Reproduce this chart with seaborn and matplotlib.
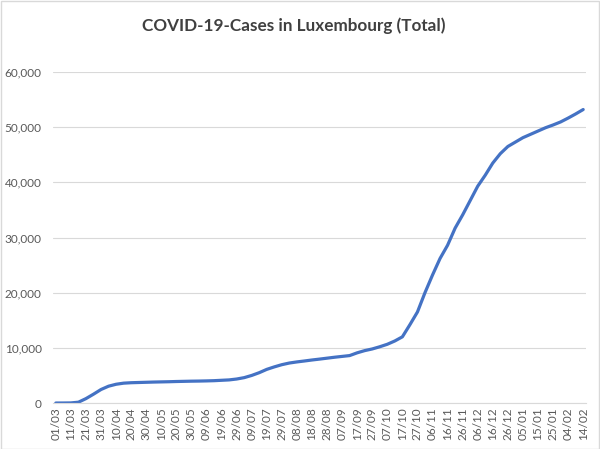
import pandas as pd
import matplotlib.pyplot as plt
import matplotlib.dates as mdates
import matplotlib.ticker as mticker
import seaborn as sns

# Cumulative cases, every 5 days starting 01/03/2020
start_date = "2020-03-01"
step_days = 5
total_cases = [
    0, 5, 20, 150, 800, 1600, 2450, 3050, 3400, 3600,
    3680, 3720, 3760, 3800, 3830, 3860, 3900, 3930, 3960, 3980,
    4010, 4050, 4120, 4190, 4350, 4600, 5000, 5500, 6100, 6550,
    6950, 7250, 7450, 7620, 7800, 7960, 8130, 8300, 8450, 8600,
    9100, 9500, 9800, 10200, 10650, 11250, 12000, 14200, 16500, 20000,
    23200, 26200, 28600, 31700, 34100, 36700, 39300, 41300, 43500, 45200,
    46500, 47300, 48100, 48700, 49300, 49900, 50400, 50950, 51650, 52400,
    53200,
]
dates = pd.date_range(start_date, periods=len(total_cases), freq=f"{step_days}D")
data = pd.DataFrame({"date": dates, "cases": total_cases})

# x tick labels every 10 days: 01/03 ... 14/02
tick_dates = pd.date_range(start_date, "2021-02-14", freq="10D")

sns.set_style("white")
plt.rcParams["font.family"] = ["Lato", "DejaVu Sans"]

fig = plt.figure(figsize=(6, 4.49), dpi=100)
ax = fig.add_axes([0.088, 0.1024, 0.889, 0.7372])

sns.lineplot(data=data, x="date", y="cases", ax=ax, color="#4472C4", linewidth=2.3)

ax.set_ylim(0, 60000)
ax.set_xlim(pd.Timestamp("2020-02-28"), pd.Timestamp("2021-02-16"))
ax.yaxis.set_major_locator(mticker.MultipleLocator(10000))
ax.yaxis.set_major_formatter(mticker.StrMethodFormatter("{x:,.0f}"))
ax.set_xticks(tick_dates)
ax.xaxis.set_major_formatter(mdates.DateFormatter("%d/%m"))
ax.tick_params(axis="x", labelrotation=90, labelsize=8.5, colors="#595959", length=0, pad=3)
ax.tick_params(axis="y", labelsize=8.5, colors="#595959", length=0, pad=8)

ax.grid(axis="y", color="#D9D9D9", linewidth=0.8)
ax.set_axisbelow(True)
for side in ["top", "right", "left"]:
    ax.spines[side].set_visible(False)
ax.spines["bottom"].set_color("#D9D9D9")
ax.spines["bottom"].set_linewidth(0.8)
ax.set_xlabel("")
ax.set_ylabel("")

fig.text(0.49, 0.943, "COVID-19-Cases in Luxembourg (Total)", ha="center", va="center",
         fontsize=12.3, fontweight="bold", color="#404040")

# thin frame around the whole chart like the original
fig.patches.append(plt.Rectangle((0.001, 0.001), 0.997, 0.997, transform=fig.transFigure,
                                 fill=False, edgecolor="#D9D9D9", linewidth=1))

fig.savefig("out.png", dpi=100)
